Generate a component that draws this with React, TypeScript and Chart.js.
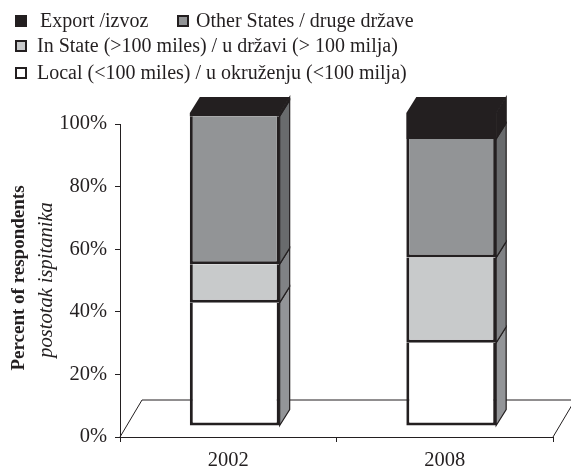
import React, { useEffect, useRef } from "react";
import { Chart, registerables } from "chart.js";

Chart.register(...registerables);

const years = ["2002", "2008"];
const local = [39.4, 26.6];
const inState = [12.3, 27.2];
const otherStates = [47.3, 37.9];
const exportShare = [1, 8.3];
const yTicks = [0, 20, 40, 60, 80, 100];

const INK = "#231f20";
const FONT = '"Liberation Serif", serif';
const BAR_SHIFT = { x: 6.5, y: -11 };
const BAR_DEPTH = { x: 10, y: -16 };
const FLOOR_DEPTH = { x: 22, y: -37 };

const sideColors = ["#939598", "#808285", "#696b6d", INK];

// dataset index, box x, text x, baseline y of each legend entry
const legendLayout = [
  { d: 3, box: 16, text: 40, y: 27 },
  { d: 2, box: 178, text: 196, y: 27 },
  { d: 1, box: 16, text: 37, y: 52 },
  { d: 0, box: 16, text: 37, y: 79 },
];

const pseudo3d = {
  id: "pseudo3d",
  beforeDatasetsDraw(chart: any) {
    const { ctx, chartArea: a } = chart;
    ctx.save();
    ctx.strokeStyle = INK;
    ctx.lineWidth = 1;
    ctx.beginPath();
    ctx.moveTo(a.left, a.bottom);
    ctx.lineTo(a.left + FLOOR_DEPTH.x, a.bottom + FLOOR_DEPTH.y);
    ctx.lineTo(chart.width, a.bottom + FLOOR_DEPTH.y);
    ctx.moveTo(a.right, a.bottom);
    ctx.lineTo(a.right + FLOOR_DEPTH.x, a.bottom + FLOOR_DEPTH.y);
    ctx.stroke();
    ctx.restore();

    ctx.save();
    ctx.translate(BAR_SHIFT.x, BAR_SHIFT.y);
    const n = chart.data.labels.length;
    for (let i = 0; i < n; i++) {
      let top: any = null;
      chart.data.datasets.forEach((_: any, d: number) => {
        const el = chart.getDatasetMeta(d).data[i];
        if (!el || Math.abs(el.base - el.y) < 0.5) return;
        const r = el.x + el.width / 2;
        ctx.beginPath();
        ctx.moveTo(r, el.y);
        ctx.lineTo(r + BAR_DEPTH.x, el.y + BAR_DEPTH.y);
        ctx.lineTo(r + BAR_DEPTH.x, el.base + BAR_DEPTH.y);
        ctx.lineTo(r, el.base);
        ctx.closePath();
        ctx.fillStyle = sideColors[d];
        ctx.fill();
        ctx.strokeStyle = INK;
        ctx.lineWidth = 1.2;
        ctx.stroke();
        top = el;
      });
      if (top) {
        const l = top.x - top.width / 2;
        const r = top.x + top.width / 2;
        ctx.beginPath();
        ctx.moveTo(l, top.y);
        ctx.lineTo(l + BAR_DEPTH.x, top.y + BAR_DEPTH.y);
        ctx.lineTo(r + BAR_DEPTH.x, top.y + BAR_DEPTH.y);
        ctx.lineTo(r, top.y);
        ctx.closePath();
        ctx.fillStyle = INK;
        ctx.fill();
      }
    }
    // the translation stays active while the library draws the bars
  },
  afterDatasetsDraw(chart: any) {
    chart.ctx.restore();
  },
  afterDraw(chart: any) {
    const { ctx } = chart;
    ctx.save();
    ctx.textBaseline = "alphabetic";
    ctx.textAlign = "left";
    ctx.font = `20px ${FONT}`;
    legendLayout.forEach(({ d, box, text, y }) => {
      const ds = chart.data.datasets[d];
      ctx.fillStyle = ds.backgroundColor;
      ctx.strokeStyle = INK;
      ctx.lineWidth = 2;
      ctx.fillRect(box, y - 11, 10, 10);
      ctx.strokeRect(box, y - 11, 10, 10);
      ctx.fillStyle = INK;
      ctx.fillText(ds.label, text, y);
    });
    ctx.textAlign = "center";
    ctx.textBaseline = "middle";
    ctx.translate(19, 278);
    ctx.rotate(-Math.PI / 2);
    ctx.font = `bold 19px ${FONT}`;
    ctx.fillText("Percent of respondents", 0, 0);
    ctx.font = `italic 20.5px ${FONT}`;
    ctx.fillText("postotak ispitanika", -2, 28);
    ctx.restore();
  },
};

export default function App() {
  const ref = useRef<HTMLCanvasElement>(null);
  useEffect(() => {
    const edges = { left: 3, right: 3, top: 0, bottom: 3 };
    const bar = (label: string, data: number[], color: string, borderWidth: any) => ({
      label,
      data,
      backgroundColor: color,
      borderColor: INK,
      borderWidth,
      borderSkipped: false,
      clip: false,
    });
    const chart = new Chart(ref.current!, {
      type: "bar",
      data: {
        labels: years,
        datasets: [
          bar("Local (<100 miles) / u okruženju (<100 milja)", local, "#ffffff", edges),
          bar("In State (>100 miles) / u državi (> 100 milja)", inState, "#c8cacb", edges),
          bar("Other States / druge države", otherStates, "#929496", edges),
          bar("Export /izvoz", exportShare, INK, 0),
        ],
      },
      plugins: [pseudo3d],
      options: {
        responsive: false,
        animation: false,
        devicePixelRatio: 1,
        events: [],
        layout: { padding: { left: 8, right: 18, top: 124, bottom: 0 } },
        datasets: { bar: { barPercentage: 0.415, categoryPercentage: 1 } },
        plugins: {
          tooltip: { enabled: false },
          legend: { display: false },
        },
        scales: {
          x: {
            stacked: true,
            afterFit: (s: any) => { s.height = 32; },
            grid: { offset: true, drawOnChartArea: false, tickLength: 5, color: INK },
            border: { color: INK },
            ticks: { color: INK, padding: 6, font: { family: FONT, size: 20.5 } },
          },
          y: {
            stacked: true,
            min: 0,
            max: 100,
            afterBuildTicks: (s: any) => { s.ticks = yTicks.map((value) => ({ value })); },
            afterFit: (s: any) => { s.width = 112; },
            grid: { drawOnChartArea: false, tickLength: 5, color: INK },
            border: { color: INK },
            ticks: {
              color: INK,
              padding: 8,
              font: { family: FONT, size: 20.5 },
              callback: (v: any) => `${v}%`,
            },
          },
        },
      } as any,
    });
    return () => chart.destroy();
  }, []);
  return (
    <div style={{ position: "absolute", left: 0, top: 0, width: 571, height: 469, background: "#fff" }}>
      <canvas ref={ref} width={571} height={469} style={{ display: "block" }} />
    </div>
  );
}
